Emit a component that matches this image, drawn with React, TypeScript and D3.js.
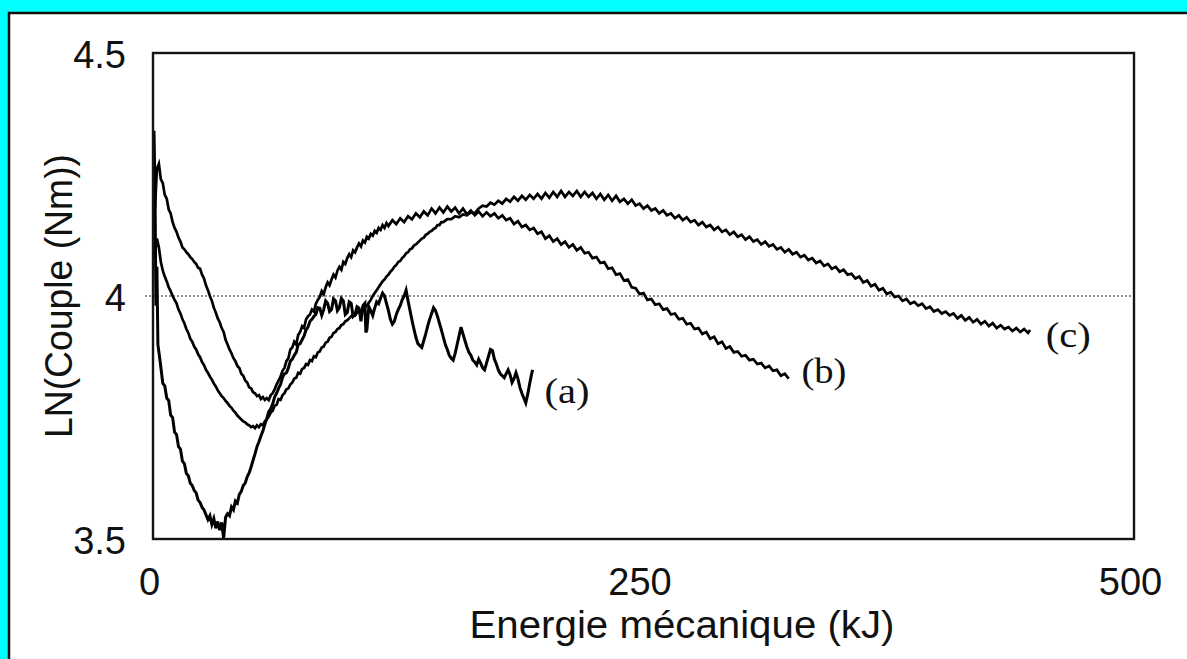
import * as d3 from "d3";
import { useEffect, useRef } from "react";

// Courbes : [énergie (kJ), LN(couple)]
const serieA: [number, number][] = [
  [0.5, 4.34], [1, 4.22], [1.5, 3.98], [2, 4.06], [2.5, 3.9], [3.5, 3.87], [5, 3.82], [6, 3.815], [7, 3.79], [8, 3.785],
  [9, 3.755], [10, 3.75], [11, 3.72], [12, 3.715], [13, 3.69], [14, 3.685], [15, 3.66], [16, 3.655], [17, 3.635], [18, 3.63],
  [19, 3.615], [20, 3.61], [21, 3.6], [22, 3.595], [23, 3.58], [24, 3.575], [25, 3.565], [26, 3.56], [27, 3.55], [28, 3.54],
  [29, 3.548], [30, 3.53], [31, 3.542], [32, 3.522], [33, 3.536], [34, 3.518], [35, 3.534], [36, 3.502], [37, 3.545], [38, 3.552],
  [39, 3.548], [40, 3.566], [41, 3.56], [42, 3.578], [43, 3.574], [44, 3.592], [45, 3.598], [46, 3.61], [47, 3.615], [48, 3.628],
  [49, 3.636], [50, 3.648], [51, 3.662], [52, 3.675], [53, 3.69], [54, 3.7], [55, 3.712], [56, 3.722], [57, 3.736], [58, 3.748],
  [59, 3.762], [60, 3.768], [61, 3.778], [62, 3.792], [63, 3.8], [64, 3.81], [65, 3.818], [66, 3.832], [67, 3.84], [68, 3.842],
  [69, 3.852], [70, 3.866], [71, 3.87], [72, 3.878], [73, 3.884], [74, 3.9], [75, 3.902], [76, 3.91], [77, 3.918], [78, 3.93],
  [79, 3.936], [80, 3.948], [81, 3.952], [82, 3.958], [83, 3.962], [84, 3.976], [85, 3.975], [86, 3.96], [87, 3.972], [88, 3.99],
  [89, 3.985], [90, 3.968], [91, 3.972], [92, 3.994], [93, 3.99], [94, 3.97], [95, 3.976], [96, 3.995], [97, 3.99], [98, 3.962],
  [99, 3.966], [100, 3.988], [101, 3.985], [102, 3.958], [103, 3.962], [104, 3.978], [105, 3.975], [106, 3.948], [107, 3.98], [108, 3.985],
  [108.5, 3.925], [109, 3.93], [110, 3.978], [111, 3.97], [112, 3.96], [113, 3.975], [114, 3.988], [115, 3.984], [116, 3.996], [117, 4.006],
  [118, 4.0], [119, 3.985], [120, 3.97], [121, 3.952], [122, 3.942], [123, 3.948], [124, 3.962], [125, 3.972], [126, 3.98], [127, 3.992],
  [128, 4.0], [129, 4.012], [130, 3.99], [131, 3.97], [132, 3.95], [133, 3.932], [134, 3.915], [135, 3.902], [136, 3.898], [137, 3.894],
  [138, 3.908], [139, 3.922], [140, 3.938], [141, 3.952], [142, 3.964], [143, 3.976], [144, 3.97], [145, 3.958], [146, 3.944], [147, 3.93],
  [148, 3.915], [149, 3.9], [150, 3.89], [151, 3.878], [152, 3.872], [153, 3.868], [154, 3.882], [155, 3.9], [156, 3.918], [157, 3.936],
  [158, 3.922], [159, 3.908], [160, 3.895], [161, 3.884], [162, 3.878], [163, 3.868], [164, 3.864], [165, 3.858], [166, 3.87], [167, 3.862],
  [168, 3.852], [169, 3.848], [170, 3.862], [171, 3.876], [172, 3.89], [173, 3.888], [174, 3.87], [175, 3.86], [176, 3.848], [177, 3.84],
  [178, 3.836], [179, 3.832], [180, 3.84], [181, 3.848], [182, 3.838], [183, 3.822], [184, 3.83], [185, 3.842], [186, 3.83], [187, 3.812],
  [188, 3.8], [189, 3.79], [190, 3.78], [191, 3.798], [192, 3.82], [193, 3.84], [193.5, 3.848],
];

const serieB: [number, number][] = [
  [1, 4.18], [2, 4.262], [3, 4.272], [4, 4.24], [5, 4.232], [6, 4.208], [7, 4.2], [8, 4.178], [9, 4.17], [10, 4.152],
  [11, 4.14], [12, 4.132], [13, 4.12], [14, 4.112], [15, 4.1], [16, 4.096], [17, 4.09], [18, 4.086], [19, 4.08], [20, 4.076],
  [21, 4.07], [22, 4.066], [23, 4.058], [24, 4.056], [25, 4.044], [26, 4.036], [27, 4.022], [28, 4.012], [29, 4.0], [30, 3.99],
  [31, 3.976], [32, 3.966], [33, 3.954], [34, 3.946], [35, 3.934], [36, 3.926], [37, 3.91], [38, 3.9], [39, 3.89], [40, 3.882],
  [41, 3.872], [42, 3.866], [43, 3.856], [44, 3.852], [45, 3.84], [46, 3.836], [47, 3.826], [48, 3.822], [49, 3.812], [50, 3.81],
  [51, 3.802], [52, 3.8], [53, 3.794], [54, 3.796], [55, 3.788], [56, 3.792], [57, 3.786], [58, 3.79], [59, 3.786], [60, 3.796],
  [61, 3.8], [62, 3.808], [63, 3.818], [64, 3.826], [65, 3.834], [66, 3.846], [67, 3.852], [68, 3.866], [69, 3.872], [70, 3.89],
  [71, 3.894], [72, 3.906], [73, 3.9], [74, 3.92], [75, 3.926], [76, 3.938], [77, 3.934], [78, 3.952], [79, 3.958], [80, 3.962],
  [81, 3.972], [82, 3.968], [83, 3.984], [84, 3.992], [85, 3.998], [86, 4.01], [87, 4.004], [88, 4.018], [89, 4.028], [90, 4.022],
  [91, 4.034], [92, 4.044], [93, 4.038], [94, 4.052], [95, 4.06], [96, 4.054], [97, 4.07], [98, 4.066], [99, 4.078], [100, 4.086],
  [101, 4.08], [102, 4.094], [103, 4.09], [104, 4.1], [105, 4.108], [106, 4.102], [107, 4.114], [108, 4.11], [109, 4.122], [110, 4.118],
  [111, 4.128], [112, 4.124], [113, 4.134], [114, 4.13], [115, 4.14], [116, 4.136], [117, 4.146], [118, 4.14], [119, 4.15], [120, 4.144],
  [122, 4.156], [124, 4.148], [126, 4.16], [128, 4.152], [130, 4.164], [132, 4.158], [134, 4.17], [136, 4.162], [138, 4.174], [140, 4.166],
  [142, 4.18], [144, 4.17], [146, 4.182], [148, 4.172], [150, 4.184], [152, 4.174], [154, 4.182], [156, 4.17], [158, 4.18], [160, 4.168],
  [162, 4.176], [164, 4.166], [166, 4.174], [168, 4.164], [170, 4.172], [172, 4.164], [174, 4.17], [176, 4.16], [178, 4.166], [180, 4.156],
  [182, 4.16], [184, 4.148], [186, 4.154], [188, 4.142], [190, 4.146], [192, 4.136], [194, 4.14], [196, 4.128], [198, 4.132], [200, 4.118],
  [202, 4.124], [204, 4.112], [206, 4.118], [208, 4.106], [210, 4.112], [212, 4.1], [214, 4.106], [216, 4.094], [218, 4.1], [220, 4.088],
  [222, 4.09], [224, 4.078], [226, 4.08], [228, 4.068], [230, 4.07], [232, 4.056], [234, 4.058], [236, 4.044], [238, 4.046], [240, 4.032],
  [242, 4.034], [244, 4.018], [246, 4.016], [248, 4.004], [250, 4.006], [252, 3.992], [254, 3.994], [256, 3.982], [258, 3.984], [260, 3.972],
  [262, 3.974], [264, 3.962], [266, 3.964], [268, 3.952], [270, 3.954], [272, 3.942], [274, 3.944], [276, 3.932], [278, 3.934], [280, 3.922],
  [282, 3.926], [284, 3.912], [286, 3.916], [288, 3.902], [290, 3.906], [292, 3.892], [294, 3.896], [296, 3.884], [298, 3.886], [300, 3.876],
  [302, 3.878], [304, 3.868], [306, 3.87], [308, 3.86], [310, 3.862], [312, 3.852], [314, 3.856], [316, 3.846], [318, 3.848], [320, 3.836],
  [322, 3.84], [324, 3.83],
];

const serieC: [number, number][] = [
  [1, 4.09], [2, 4.118], [3, 4.1], [4, 4.07], [5, 4.052], [6, 4.04], [7, 4.03], [8, 4.018], [9, 4.01], [10, 4.0],
  [11, 3.992], [12, 3.985], [13, 3.972], [14, 3.964], [15, 3.952], [16, 3.944], [17, 3.932], [18, 3.924], [19, 3.912], [20, 3.906],
  [21, 3.896], [22, 3.89], [23, 3.88], [24, 3.874], [25, 3.864], [26, 3.858], [27, 3.848], [28, 3.842], [29, 3.834], [30, 3.828],
  [31, 3.82], [32, 3.814], [33, 3.806], [34, 3.8], [35, 3.794], [36, 3.79], [37, 3.784], [38, 3.78], [39, 3.774], [40, 3.77],
  [41, 3.764], [42, 3.76], [43, 3.754], [44, 3.75], [45, 3.746], [46, 3.742], [47, 3.74], [48, 3.736], [49, 3.734], [50, 3.73],
  [51, 3.732], [52, 3.728], [53, 3.734], [54, 3.73], [55, 3.736], [56, 3.734], [57, 3.742], [58, 3.746], [59, 3.752], [60, 3.76],
  [61, 3.764], [62, 3.774], [63, 3.776], [64, 3.788], [65, 3.786], [66, 3.796], [67, 3.8], [68, 3.808], [69, 3.81], [70, 3.818],
  [71, 3.822], [72, 3.83], [73, 3.832], [74, 3.842], [75, 3.84], [76, 3.85], [77, 3.852], [78, 3.86], [79, 3.858], [80, 3.868],
  [81, 3.866], [82, 3.876], [83, 3.874], [84, 3.884], [85, 3.886], [86, 3.894], [87, 3.896], [88, 3.904], [89, 3.906], [90, 3.914],
  [91, 3.916], [92, 3.924], [93, 3.926], [94, 3.932], [95, 3.934], [96, 3.94], [97, 3.942], [98, 3.948], [99, 3.95], [100, 3.954],
  [101, 3.958], [102, 3.962], [103, 3.96], [104, 3.966], [105, 3.968], [106, 3.97], [107, 3.974], [108, 3.976], [109, 3.98], [110, 3.986],
  [111, 3.992], [112, 4.0], [113, 4.006], [114, 4.012], [115, 4.018], [116, 4.024], [117, 4.03], [118, 4.034], [119, 4.04], [120, 4.044],
  [121, 4.05], [122, 4.054], [123, 4.06], [124, 4.064], [125, 4.07], [126, 4.072], [127, 4.078], [128, 4.082], [129, 4.088], [130, 4.09],
  [131, 4.096], [132, 4.098], [133, 4.104], [134, 4.106], [135, 4.11], [136, 4.114], [137, 4.118], [138, 4.12], [139, 4.126], [140, 4.128],
  [141, 4.132], [142, 4.134], [143, 4.138], [144, 4.14], [145, 4.146], [146, 4.146], [147, 4.152], [148, 4.152], [150, 4.158], [152, 4.158],
  [154, 4.164], [156, 4.162], [158, 4.168], [160, 4.166], [162, 4.172], [164, 4.17], [166, 4.18], [168, 4.186], [170, 4.184], [172, 4.192],
  [174, 4.188], [176, 4.196], [178, 4.19], [180, 4.2], [182, 4.194], [184, 4.204], [186, 4.196], [188, 4.206], [190, 4.198], [192, 4.208],
  [194, 4.2], [196, 4.21], [198, 4.2], [200, 4.212], [202, 4.202], [204, 4.214], [206, 4.204], [208, 4.216], [210, 4.204], [212, 4.214],
  [214, 4.206], [216, 4.216], [218, 4.204], [220, 4.214], [222, 4.204], [224, 4.212], [226, 4.2], [228, 4.21], [230, 4.198], [232, 4.208],
  [234, 4.196], [236, 4.206], [238, 4.194], [240, 4.2], [242, 4.19], [244, 4.198], [246, 4.186], [248, 4.19], [250, 4.18], [252, 4.186],
  [254, 4.176], [256, 4.18], [258, 4.17], [260, 4.176], [262, 4.166], [264, 4.17], [266, 4.16], [268, 4.166], [270, 4.156], [272, 4.162],
  [274, 4.152], [276, 4.156], [278, 4.146], [280, 4.152], [282, 4.142], [284, 4.146], [286, 4.136], [288, 4.142], [290, 4.132], [292, 4.136],
  [294, 4.126], [296, 4.132], [298, 4.122], [300, 4.126], [302, 4.116], [304, 4.122], [306, 4.112], [308, 4.116], [310, 4.106], [312, 4.112],
  [314, 4.102], [316, 4.106], [318, 4.096], [320, 4.1], [322, 4.09], [324, 4.096], [326, 4.086], [328, 4.09], [330, 4.08], [332, 4.084],
  [334, 4.074], [336, 4.078], [338, 4.068], [340, 4.072], [342, 4.062], [344, 4.066], [346, 4.056], [348, 4.06], [350, 4.05], [352, 4.054],
  [354, 4.044], [356, 4.046], [358, 4.036], [360, 4.04], [362, 4.028], [364, 4.032], [366, 4.02], [368, 4.024], [370, 4.012], [372, 4.016],
  [374, 4.004], [376, 4.008], [378, 3.998], [380, 4.0], [382, 3.99], [384, 3.994], [386, 3.984], [388, 3.988], [390, 3.98], [392, 3.984],
  [394, 3.974], [396, 3.978], [398, 3.968], [400, 3.972], [402, 3.964], [404, 3.968], [406, 3.96], [408, 3.964], [410, 3.954], [412, 3.96],
  [414, 3.95], [416, 3.956], [418, 3.946], [420, 3.952], [422, 3.942], [424, 3.948], [426, 3.938], [428, 3.944], [430, 3.934], [432, 3.94],
  [434, 3.932], [436, 3.936], [438, 3.928], [440, 3.934], [442, 3.926], [444, 3.932], [446, 3.924], [447, 3.93],
];

const series = [serieA, serieB, serieC];

// Étiquettes des courbes : texte, position (kJ, LN)
const curveLabels = ["(a)", "(b)", "(c)"];
const labelEnergy = [199.5, 330.5, 455];
const labelValue = [3.78, 3.821, 3.895];

const xTicks = [0, 250, 500];
const yTicks = [3.5, 4, 4.5];
const gridValues = [4];

const xTitle = "Energie mécanique (kJ)";
const yTitle = "LN(Couple (Nm))";

const App = () => {
  const ref = useRef<SVGSVGElement>(null);

  useEffect(() => {
    if (ref && ref.current) ref.current.innerHTML = "";

    const width = 1187;
    const height = 659;
    const left = 153, right = 1134, top = 53, bottom = 539;

    const x = d3.scaleLinear().domain([0, 500]).range([left, right]);
    const y = d3.scaleLinear().domain([3.5, 4.5]).range([bottom, top]);

    const svg = d3.select(ref.current)
      .attr("width", width)
      .attr("height", height)
      .attr("viewBox", [0, 0, width, height]);

    // cadre cyan + panneau blanc
    svg.append("rect").attr("width", width).attr("height", height).attr("fill", "#00FFFF");
    svg.append("rect")
      .attr("x", 9).attr("y", 13)
      .attr("width", width + 20).attr("height", height + 20)
      .attr("fill", "#fff").attr("stroke", "#111").attr("stroke-width", 2.5);

    // ligne pointillée à LN = 4
    svg.append("g")
      .selectAll("line")
      .data(gridValues)
      .join("line")
        .attr("x1", left - 8).attr("x2", right)
        .attr("y1", d => y(d)).attr("y2", d => y(d))
        .attr("stroke", "#6a6a80")
        .attr("stroke-width", 1.4)
        .attr("stroke-dasharray", "2 2");

    // axes (texte seulement)
    const xAxis = svg.append("g")
      .attr("transform", `translate(0,${bottom})`)
      .call(d3.axisBottom(x).tickValues(xTicks).tickSize(0).tickPadding(29).tickFormat(d3.format("d")));
    const yAxis = svg.append("g")
      .attr("transform", `translate(${left},0)`)
      .call(d3.axisLeft(y).tickValues(yTicks).tickSize(0).tickPadding(27).tickFormat(d => d3.format("")(d)));

    for (const ax of [xAxis, yAxis]) {
      ax.select(".domain").remove();
      ax.selectAll("text")
        .attr("fill", "#111")
        .style("font-family", "'Liberation Sans', Arial, sans-serif")
        .style("font-size", "38px");
    }
    xAxis.selectAll("text").attr("dx", -4);
    yAxis.selectAll("text").attr("dy", "0.37em");

    // courbes
    const line = d3.line<[number, number]>()
      .x(d => x(d[0]))
      .y(d => y(d[1]));

    svg.append("g")
      .selectAll("path")
      .data(series)
      .join("path")
        .attr("d", d => line(d))
        .attr("fill", "none")
        .attr("stroke", "#000")
        .attr("stroke-width", (d, i) => i === 0 ? 3 : 2.7)
        .attr("stroke-linejoin", "miter");

    // cadre du graphique
    svg.append("rect")
      .attr("x", x(0)).attr("y", y(4.5))
      .attr("width", x(500) - x(0)).attr("height", y(3.5) - y(4.5))
      .attr("fill", "none")
      .attr("stroke", "#151515")
      .attr("stroke-width", 2.4);

    // étiquettes (a) (b) (c)
    svg.append("g")
      .selectAll("text")
      .data(curveLabels)
      .join("text")
        .attr("x", (d, i) => x(labelEnergy[i]))
        .attr("y", (d, i) => y(labelValue[i]))
        .attr("textLength", 45)
        .attr("lengthAdjust", "spacingAndGlyphs")
        .style("font-family", "'Liberation Serif', 'Times New Roman', serif")
        .style("font-size", "36px")
        .attr("fill", "#111")
        .text(d => d);

    // titres des axes
    svg.append("text")
      .attr("x", 682).attr("y", 638)
      .attr("text-anchor", "middle")
      .attr("textLength", 425)
      .attr("lengthAdjust", "spacingAndGlyphs")
      .style("font-family", "'Liberation Sans', Arial, sans-serif")
      .style("font-size", "38px")
      .attr("fill", "#111")
      .text(xTitle);

    svg.append("text")
      .attr("transform", `translate(72,${(top + bottom) / 2}) rotate(-90)`)
      .attr("text-anchor", "middle")
      .attr("textLength", 284)
      .attr("lengthAdjust", "spacingAndGlyphs")
      .style("font-family", "'Liberation Sans', Arial, sans-serif")
      .style("font-size", "38px")
      .attr("fill", "#111")
      .text(yTitle);
  }, []);

  return (
    <div style={{ position: "absolute", left: 0, top: 0 }}>
      <svg ref={ref} style={{ display: "block" }} />
    </div>
  );
};

export default App;
